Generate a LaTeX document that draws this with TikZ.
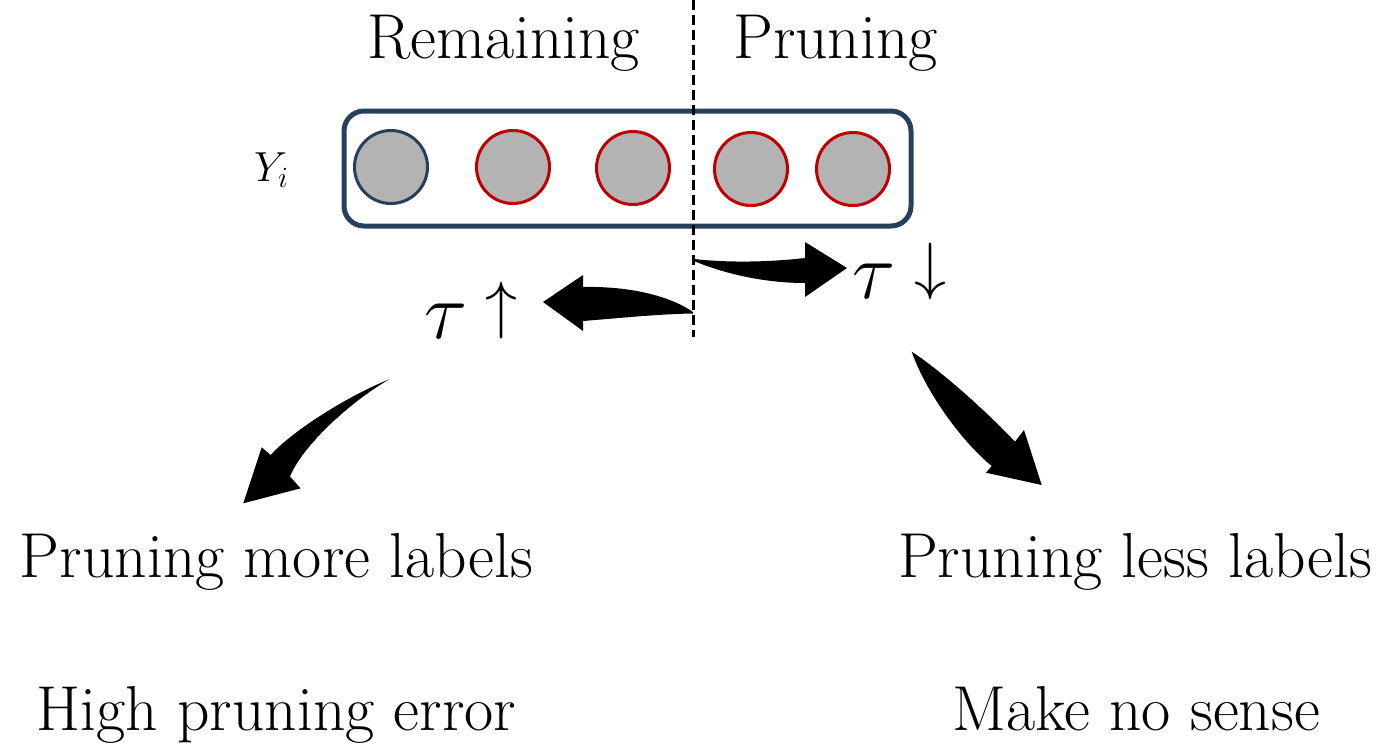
\RequirePackage{fix-cm}
\documentclass[tikz,border=0pt]{standalone}
\definecolor{navy}{RGB}{38,64,92}
\definecolor{pred}{RGB}{192,0,0}
\definecolor{cgray}{RGB}{179,179,179}
\begin{document}
\begin{tikzpicture}[x=1pt,y=-1pt,
  lbl/.style={inner sep=0pt, anchor=base, font=\fontsize{63.5}{76}\selectfont},
  taulbl/.style={inner sep=0pt, anchor=base, font=\fontsize{80}{90}\selectfont},
  arrlbl/.style={inner sep=0pt, anchor=center, font=\fontsize{64}{76}\selectfont},
  dot/.style={circle, minimum size=73pt, inner sep=0pt, fill=cgray, line width=3pt},
  blk/.style={fill=black, draw=none}]
\useasboundingbox (0,0) rectangle (1384,745);

% headers
\node[lbl] (remain) at (503.5,58) {Remaining};
\node[lbl] (prune) at (835.5,58) {Pruning};

% container
\node[draw=navy, line width=5pt, rounded corners=20pt, minimum width=567pt,
      minimum height=115pt, inner sep=0pt] (box) at (627.5,168.5) {};
\node[inner sep=0pt, anchor=base west, font=\fontsize{42}{48}\selectfont] (yi) at (254,181) {$Y_i$};

% label circles
\node[dot, draw=navy] (c1) at (391,167) {};
\node[dot, draw=pred] (c2) at (513,167) {};
\node[dot, draw=pred] (c3) at (633,168) {};
\node[dot, draw=pred] (c4) at (751,169) {};
\node[dot, draw=pred] (c5) at (853,169) {};

% threshold line
\coordinate (dtop) at (693.5,0);
\coordinate (dbot) at (693.5,337);
\draw[line width=3pt, dash pattern=on 10pt off 5pt] (dtop) -- (dbot);

% tau labels
\node[taulbl] (tauL) at (446,338) {$\tau$};
\node[arrlbl] (upL) at (501.5,310.5) {$\uparrow$};
\node[taulbl] (tauR) at (874,298) {$\tau$};
\node[arrlbl] (dnR) at (930,271) {$\downarrow$};

% curved block arrow to the left (tau up)
\fill[blk] (693,312) .. controls (670,296) and (630,286) .. (583,287)
  -- (583,275) -- (543,302) -- (583,331) -- (583,321)
  .. controls (620,318) and (660,314) .. (693,313.5) -- cycle;

% curved block arrow to the right (tau down)
\fill[blk] (694,259) .. controls (730,263) and (770,262) .. (805,258)
  -- (805,242) -- (847,268) -- (805,297) -- (805,283)
  .. controls (765,283) and (725,274) .. (694,261) -- cycle;

% lower-left curved arrow
\fill[blk] (389.3,379.3) .. controls (345,397) and (290,433) .. (270.7,455)
  -- (261.7,447.3) -- (243.3,503.3) -- (300.7,488.3) -- (290,476.7)
  .. controls (300,450) and (345,405) .. (389.3,379.3) -- cycle;

% lower-right curved arrow
\fill[blk] (911.7,351.7) .. controls (925,390) and (960,440) .. (991.7,466)
  -- (986,472.7) -- (1041.7,485) -- (1024,430) -- (1015,441.7)
  .. controls (985,410) and (940,370) .. (911.7,351.7) -- cycle;

% outcome texts
\node[lbl] (moreL) at (276.5,577) {Pruning more labels};
\node[lbl] (errL) at (276.5,730) {High pruning error};
\node[lbl] (lessL) at (1135,577) {Pruning less labels};
\node[lbl] (senseL) at (1136,730) {Make no sense};
\end{tikzpicture}
\end{document}
